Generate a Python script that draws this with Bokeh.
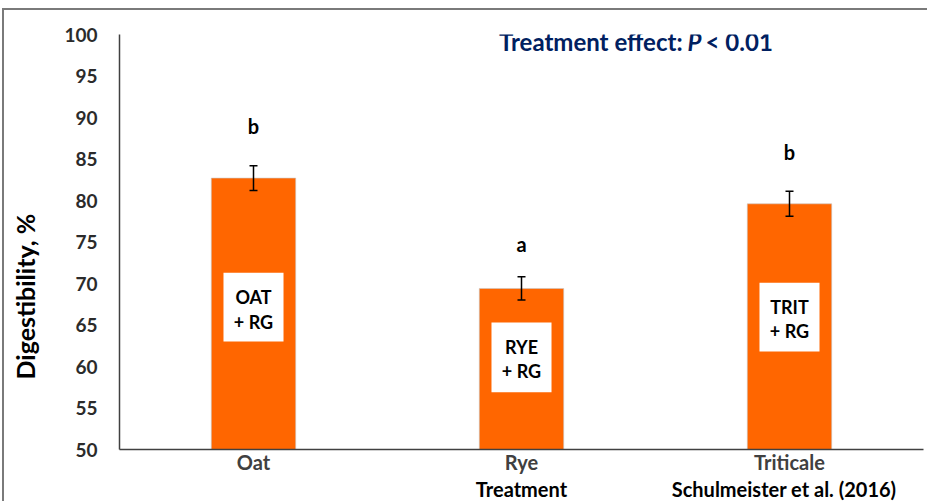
from bokeh.plotting import figure
from bokeh.models import (Range1d, FixedTicker, Whisker, ColumnDataSource, Label, TeeHead,
                          LinearAxis)
from bokeh.core.properties import value
from bokeh.embed import file_html
from bokeh.resources import INLINE

# ---- data ----
treatments = ["Oat", "Rye", "Triticale"]
digestibility = [82.7, 69.4, 79.6]
se = [1.5, 1.4, 1.5]
letters = ["b", "a", "b"]
letter_y = [89.0, 74.8, 85.9]
box_names = ["OAT", "RYE", "TRIT"]
box_top = [71.3, 65.3, 70.1]
box_bottom = [63.0, 56.9, 61.8]
box_line1_y = [68.4, 62.3, 67.2]
box_line2_y = [65.4, 59.4, 64.25]
y_ticks = [50, 55, 60, 65, 70, 75, 80, 85, 90, 95, 100]
x_title = "Treatment"
x_title_x = 1.0
citation = "Schulmeister et al. (2016)"
citation_x = 1.98

FONT = "Lato"
xs = list(range(len(treatments)))

p = figure(width=925, height=493, output_backend="svg", toolbar_location=None,
           x_range=Range1d(-0.5, 2.5), y_range=Range1d(50, 100), x_axis_location=None,
           min_border_left=115, min_border_right=6, min_border_top=24, min_border_bottom=54)
p.styles = {"margin-top": "8px", "margin-left": "2px",
            "border-top": "2px solid #7a7a7a", "border-left": "2px solid #7a7a7a"}
p.outline_line_color = None
p.xgrid.grid_line_color = None
p.ygrid.grid_line_color = None
p.background_fill_color = "white"
p.border_fill_color = "white"

src = ColumnDataSource(dict(x=xs, top=digestibility,
                            upper=[v + s for v, s in zip(digestibility, se)],
                            lower=[v - s for v, s in zip(digestibility, se)],
                            btop=box_top, bbot=box_bottom))

p.vbar(x="x", top="top", bottom=50, width=0.315, source=src,
       fill_color="#FF6600", line_color="#c8c8c8", line_width=0.6)
p.vbar(x="x", top="btop", bottom="bbot", width=0.224, source=src,
       fill_color="white", line_color=None)

wh = Whisker(base="x", upper="upper", lower="lower", source=src, level="overlay",
             line_color="black", line_width=1.5,
             upper_head=TeeHead(size=8, line_color="black", line_width=1.5),
             lower_head=TeeHead(size=8, line_color="black", line_width=1.5))
p.add_layout(wh)

# letters
p.text(x=xs, y=letter_y, text=letters, text_font=value(FONT), text_font_style="bold",
       text_font_size="20px", text_color="black", text_align="center",
       text_baseline="alphabetic")

# box labels
p.text(x=xs, y=box_line1_y, text=box_names, text_font=value(FONT), text_font_style="bold",
       text_font_size="18px", text_color="black", text_align="center",
       text_baseline="alphabetic")
p.text(x=xs, y=box_line2_y, text=["+ RG"] * 3, text_font=value(FONT), text_font_style="bold",
       text_font_size="18px", text_color="black", text_align="center",
       text_baseline="alphabetic")

# y axis
p.yaxis.ticker = FixedTicker(ticks=y_ticks)
p.yaxis.major_tick_line_color = None
p.yaxis.minor_tick_line_color = None
p.yaxis.major_tick_out = 0
p.yaxis.major_label_standoff = 22
p.yaxis.major_label_text_font = FONT
p.yaxis.major_label_text_font_style = "bold"
p.yaxis.major_label_text_font_size = "19px"
p.yaxis.major_label_text_color = "#2b2b2b"
p.yaxis.axis_line_color = "#404040"
p.yaxis.axis_line_width = 1.5
# trailing no-break spaces push the (centred) title down, as in the reference
p.yaxis.axis_label = "Digestibility, %" + "\u00a0" * 18
p.yaxis.axis_label_standoff = 21
p.yaxis.axis_label_text_font = FONT
p.yaxis.axis_label_text_font_style = "bold"
p.yaxis.axis_label_text_font_size = "25px"
p.yaxis.axis_label_text_color = "black"

# main x axis: category names
xa = LinearAxis(ticker=FixedTicker(ticks=xs),
                major_label_overrides={i: t for i, t in enumerate(treatments)},
                major_tick_line_color=None, minor_tick_line_color=None,
                major_tick_out=0, major_tick_in=0, major_label_standoff=0,
                major_label_text_font=FONT, major_label_text_font_style="bold",
                major_label_text_font_size="20px", major_label_text_color="#404040",
                axis_line_color="#404040", axis_line_width=1.5)
p.add_layout(xa, "below")

# second row: "Treatment" and the citation
xa2 = LinearAxis(ticker=FixedTicker(ticks=[x_title_x, citation_x]),
                 major_label_overrides={x_title_x: x_title, citation_x: citation},
                 major_tick_line_color=None, minor_tick_line_color=None,
                 major_tick_out=0, major_tick_in=0, major_label_standoff=0,
                 major_label_text_font=FONT, major_label_text_font_style="bold",
                 major_label_text_font_size="20px", major_label_text_color="black",
                 axis_line_color=None)
p.add_layout(xa2, "below")

# significance title
NAVY = "#002060"
TY = 99.2
p.add_layout(Label(x=1.601, y=TY, text="Treatment effect:", text_font=FONT,
                   text_font_style="bold", text_font_size="24px", text_color=NAVY,
                   text_align="right", text_baseline="alphabetic"))
p.add_layout(Label(x=1.619, y=TY, text="P", text_font=FONT,
                   text_font_style="bold italic", text_font_size="24px", text_color=NAVY,
                   text_align="left", text_baseline="alphabetic"))
p.add_layout(Label(x=1.687, y=TY, text="< 0.01", text_font=FONT,
                   text_font_style="bold", text_font_size="24px", text_color=NAVY,
                   text_align="left", text_baseline="alphabetic"))

open("out.html", "w").write(file_html(p, INLINE))
